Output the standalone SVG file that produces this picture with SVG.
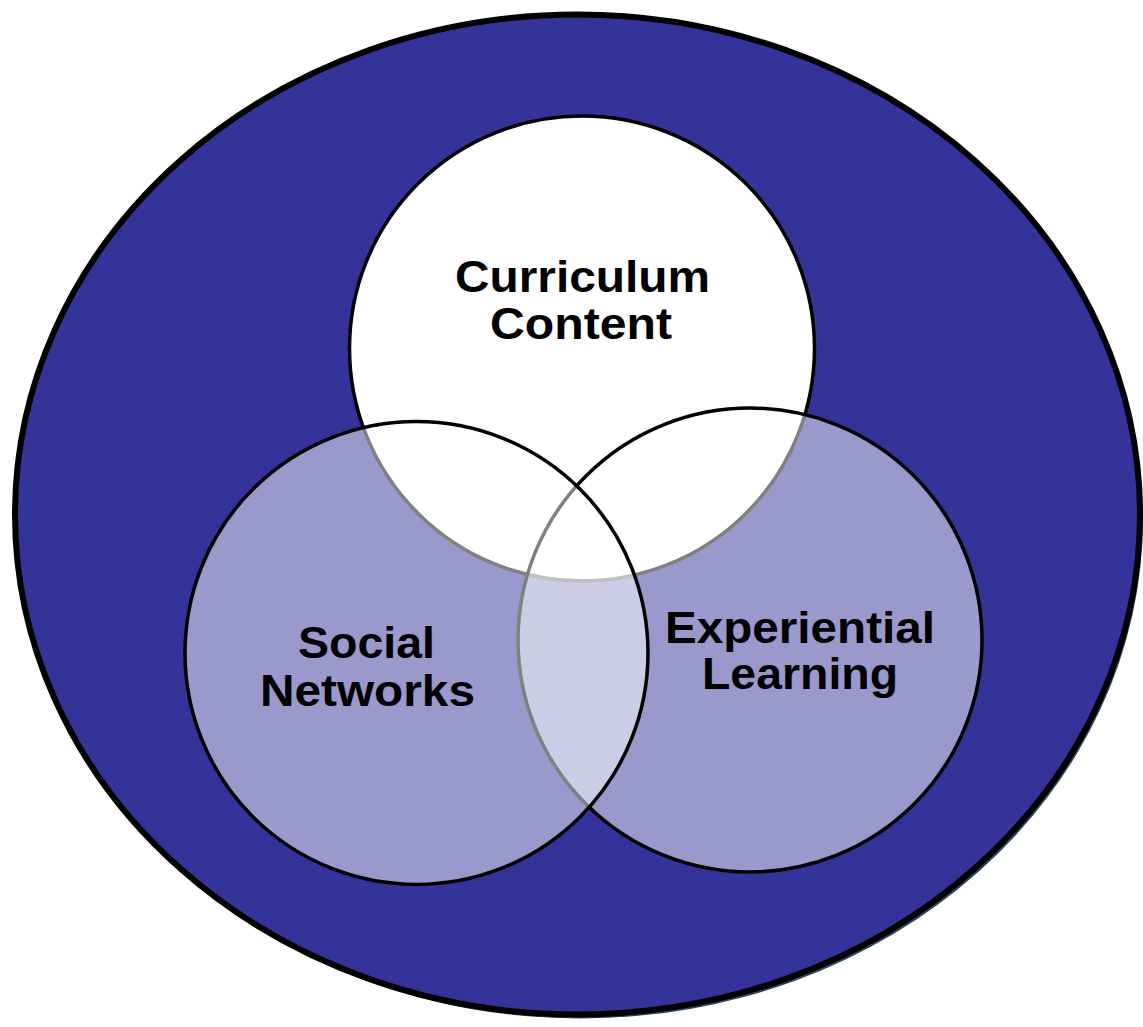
<svg xmlns="http://www.w3.org/2000/svg" width="1143" height="1027" viewBox="0 0 1143 1027">
  <style>
    .lbl { font-family: "Liberation Sans", Arial, sans-serif; font-weight: bold; font-size: 44px; fill: #000000; text-anchor: middle; }
    .ring { stroke: #000000; stroke-width: 3.5; }
    .soft { fill: #ffffff; fill-opacity: 0.5; }
  </style>
  <rect width="1143" height="1027" fill="#ffffff"/>
  <g id="outer">
    <ellipse cx="580.5" cy="518.5" rx="562.5" ry="500" fill="#2b4566"/>
    <ellipse cx="577.5" cy="514.5" rx="562.5" ry="500" fill="#333399" stroke="#000000" stroke-width="6"/>
  </g>
  <g id="curriculum-content">
    <circle cx="582" cy="348.5" r="232.5" fill="#ffffff" class="ring"/>
  </g>
  <g id="experiential-learning">
    <circle cx="750" cy="640" r="232" class="ring soft"/>
  </g>
  <g id="social-networks">
    <circle cx="416.5" cy="653" r="231.5" class="ring soft"/>
  </g>
  <g id="connectors"></g>
  <g id="labels">
    <text class="lbl" x="582.5" y="291.5" textLength="255" lengthAdjust="spacingAndGlyphs">Curriculum</text>
    <text class="lbl" x="581" y="338.5" textLength="182" lengthAdjust="spacingAndGlyphs">Content</text>
    <text class="lbl" x="366.5" y="658" textLength="137" lengthAdjust="spacingAndGlyphs">Social</text>
    <text class="lbl" x="367.5" y="706" textLength="215" lengthAdjust="spacingAndGlyphs">Networks</text>
    <text class="lbl" x="800" y="643" textLength="270" lengthAdjust="spacingAndGlyphs">Experiential</text>
    <text class="lbl" x="800" y="689" textLength="196" lengthAdjust="spacingAndGlyphs">Learning</text>
  </g>
</svg>
